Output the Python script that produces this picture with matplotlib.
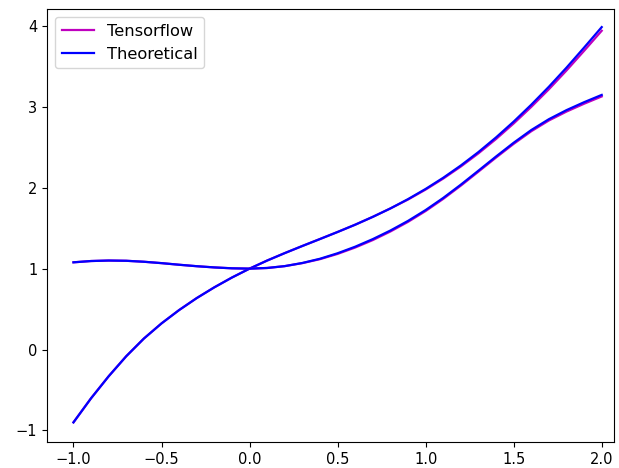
import numpy as np
import matplotlib
matplotlib.use('Agg')
import matplotlib.pyplot as plt

# sample points
x = np.round(np.arange(-1.0, 2.01, 0.1), 1)

# first solution curve
theo_1 = [-0.900, -0.602, -0.330, -0.082, 0.136, 0.323, 0.488, 0.636, 0.769, 0.890,
          1.000, 1.100, 1.192, 1.280, 1.366, 1.453, 1.543, 1.640, 1.744, 1.859,
          1.985, 2.123, 2.275, 2.441, 2.622, 2.817, 3.026, 3.248, 3.484, 3.732, 3.985]
tf_1 = [-0.900, -0.602, -0.330, -0.082, 0.136, 0.323, 0.488, 0.636, 0.769, 0.890,
        1.000, 1.100, 1.192, 1.280, 1.366, 1.453, 1.543, 1.640, 1.744, 1.854,
        1.977, 2.113, 2.262, 2.425, 2.602, 2.794, 2.999, 3.217, 3.449, 3.692, 3.940]

# second solution curve
theo_2 = [1.078, 1.094, 1.100, 1.097, 1.085, 1.068, 1.048, 1.030, 1.015, 1.004,
          1.000, 1.008, 1.031, 1.070, 1.122, 1.190, 1.271, 1.365, 1.471, 1.590,
          1.724, 1.874, 2.038, 2.211, 2.386, 2.556, 2.713, 2.847, 2.959, 3.057, 3.147]
tf_2 = [1.078, 1.094, 1.100, 1.097, 1.085, 1.068, 1.048, 1.030, 1.015, 1.004,
        1.000, 1.008, 1.031, 1.068, 1.117, 1.182, 1.261, 1.353, 1.459, 1.578,
        1.712, 1.862, 2.026, 2.199, 2.373, 2.542, 2.698, 2.831, 2.941, 3.038, 3.128]

plt.rcParams['font.size'] = 10.5

fig = plt.figure(figsize=(6.19, 4.68), dpi=100)
ax = fig.add_axes([0.076, 0.056, 0.916, 0.925])

ax.plot(x, tf_1, 'm', lw=1.6, label='Tensorflow')
ax.plot(x, theo_1, 'b', lw=1.6, label='Theoretical')
ax.plot(x, tf_2, 'm', lw=1.6)
ax.plot(x, theo_2, 'b', lw=1.6)

ax.set_xlim(-1.15, 2.07)
ax.set_ylim(-1.14, 4.21)
ax.set_xticks([-1.0, -0.5, 0.0, 0.5, 1.0, 1.5, 2.0])
ax.set_yticks([-1, 0, 1, 2, 3, 4])
ax.legend(loc='upper left', fontsize=11.7)

plt.savefig('out.png')
